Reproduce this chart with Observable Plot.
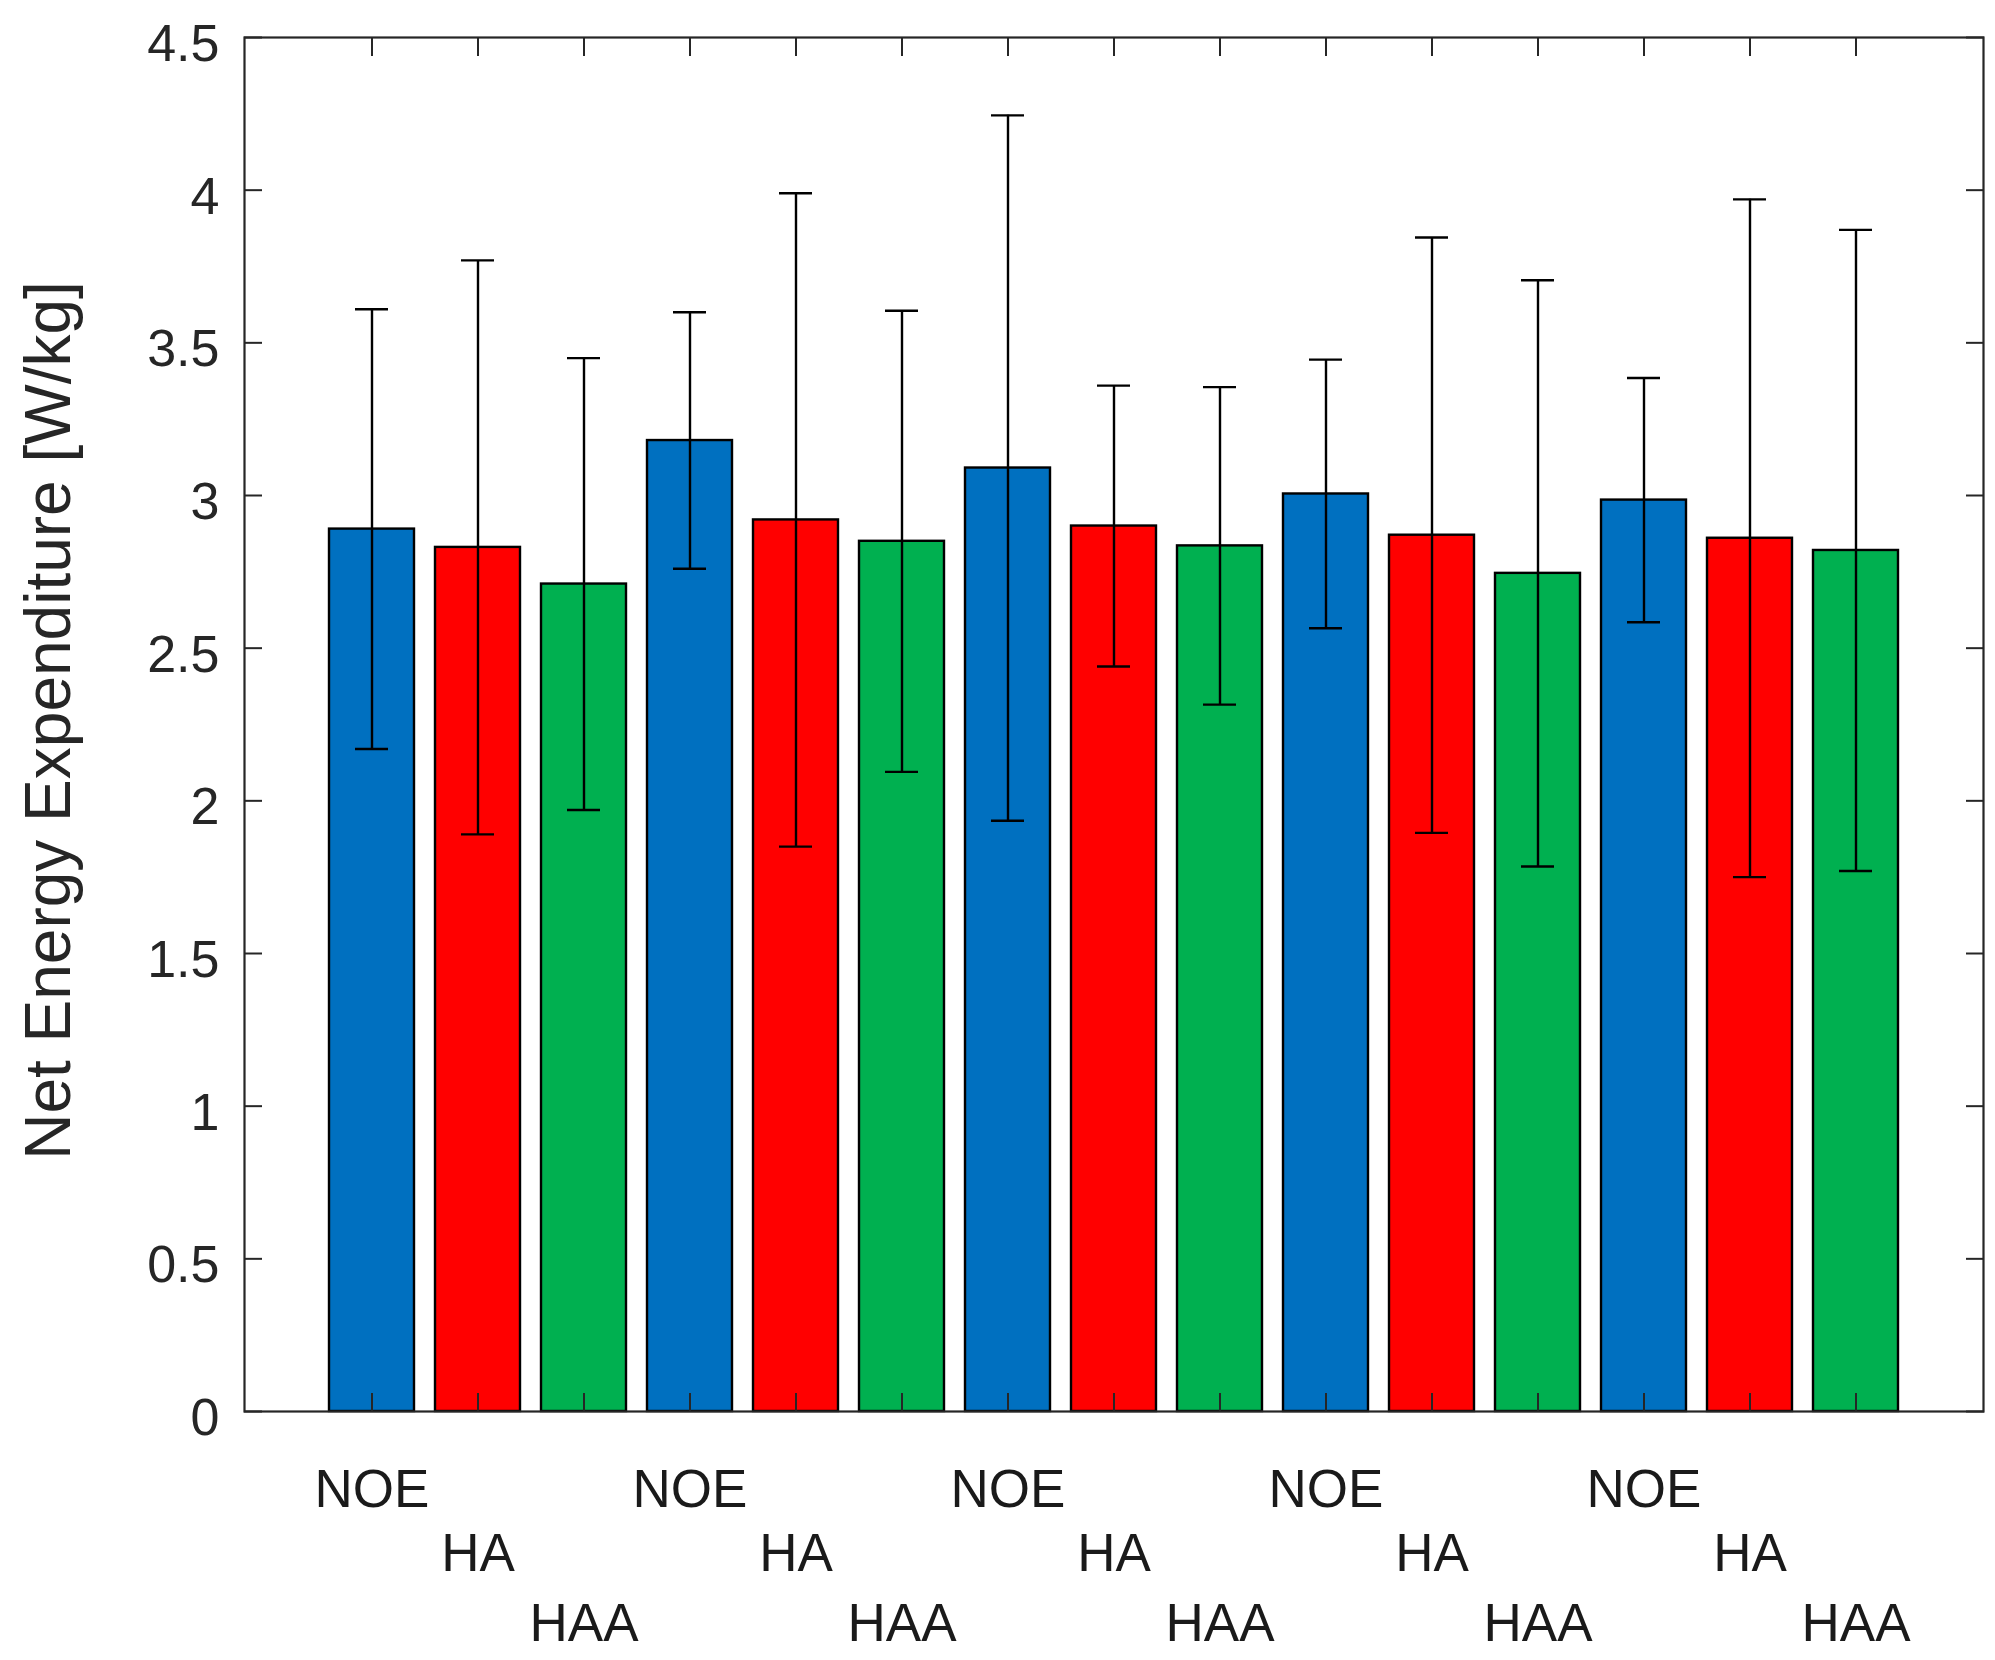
<!DOCTYPE html>
<html>
<head>
<meta charset="utf-8">
<script src="https://cdn.jsdelivr.net/npm/d3@7"></script>
<script src="https://cdn.jsdelivr.net/npm/@observablehq/plot@0.6"></script>
<style>
  html, body { margin: 0; padding: 0; background: #fff; }
  svg { display: block; }
</style>
</head>
<body>
<div id="chart"></div>
<script>
// ---- data ----
const conditions = ["NOE", "HA", "HAA", "NOE", "HA", "HAA", "NOE", "HA", "HAA", "NOE", "HA", "HAA", "NOE", "HA", "HAA"];
const means = [2.89, 2.83, 2.71, 3.18, 2.92, 2.85, 3.09, 2.90, 2.835, 3.005, 2.87, 2.745, 2.985, 2.86, 2.82];
const sds   = [0.72, 0.94, 0.74, 0.42, 1.07, 0.755, 1.155, 0.46, 0.52, 0.44, 0.975, 0.96, 0.40, 1.11, 1.05];
const yTicks = [0, 0.5, 1, 1.5, 2, 2.5, 3, 3.5, 4, 4.5];
const conditionOrder = ["NOE", "HA", "HAA"];
const conditionColors = ["#0070C0", "#FF0000", "#00B050"];
const yLabel = "Net Energy Expenditure [W/kg]";

const data = conditions.map((c, i) => ({
  pos: i + 1,
  cond: c,
  mean: means[i],
  lo: means[i] - sds[i],
  hi: means[i] + sds[i]
}));

const labelRowOffset = {NOE: 79, HA: 143, HAA: 213};

const chart = Plot.plot({
  width: 1995,
  height: 1660,
  marginLeft: 244,
  marginRight: 12,
  marginTop: 37,
  marginBottom: 249,
  style: {fontFamily: "'Liberation Sans', Arial, Helvetica, sans-serif", background: "#fff", color: "#262626"},
  x: {type: "band", domain: data.map(d => d.pos), paddingInner: 0.2, paddingOuter: 0.8, axis: null},
  y: {domain: [0, 4.5], axis: null},
  color: {domain: conditionOrder, range: conditionColors},
  marks: [
    Plot.barY(data, {x: "pos", y: "mean", fill: "cond", stroke: "#000", strokeWidth: 2.4}),
    Plot.ruleX(data, {x: "pos", y1: "lo", y2: "hi", stroke: "#000", strokeWidth: 2.4}),
    Plot.tickY(data, {x: "pos", y: "lo", stroke: "#000", strokeWidth: 2.4, insetLeft: 26, insetRight: 26}),
    Plot.tickY(data, {x: "pos", y: "hi", stroke: "#000", strokeWidth: 2.4, insetLeft: 26, insetRight: 26}),
    Plot.axisY(yTicks, {anchor: "left", tickSize: -18, fill: "none", label: null, stroke: "#262626", strokeWidth: 2}),
    Plot.axisY(yTicks, {anchor: "right", tickSize: -18, fill: "none", label: null, stroke: "#262626", strokeWidth: 2}),
    Plot.axisY(yTicks, {anchor: "left", tickSize: 0, tickPadding: 25, dy: 7, fontSize: 52, label: null, fill: "#262626", tickFormat: d => `${d}`}),
    Plot.axisX({anchor: "bottom", tickSize: -18, fill: "none", label: null, stroke: "#262626", strokeWidth: 2}),
    Plot.axisX({anchor: "top", tickSize: -18, fill: "none", label: null, stroke: "#262626", strokeWidth: 2}),
    Plot.frame({stroke: "#262626", strokeWidth: 2.2}),
    ...conditionOrder.map(c =>
      Plot.text(data.filter(d => d.cond === c), {
        x: "pos", text: "cond", frameAnchor: "bottom", lineAnchor: "middle", textAnchor: "middle",
        dy: labelRowOffset[c], fontSize: 53, fill: "#1a1a1a"
      })
    ),
    Plot.text([yLabel], {
      text: d => d, frameAnchor: "left", textAnchor: "middle", lineAnchor: "middle",
      rotate: -90, dx: -195, dy: -4, fontSize: 64, fill: "#262626"
    })
  ]
});

document.getElementById("chart").appendChild(chart);
</script>
</body>
</html>
